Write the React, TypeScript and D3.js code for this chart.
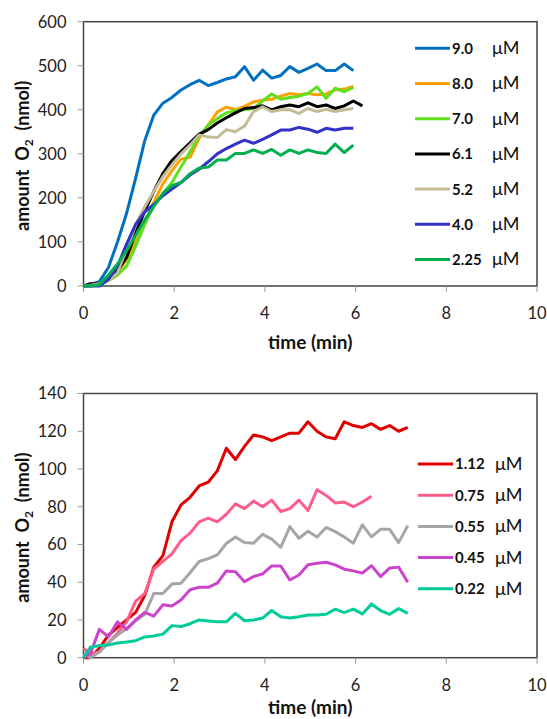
import React from "react";
import * as d3 from "d3";

// ---------- Top chart data ----------
const topTimes = [0, 0.15, 0.35, 0.55, 0.75, 0.95, 1.15, 1.35, 1.55, 1.75, 1.95, 2.15, 2.35, 2.55, 2.75, 2.95, 3.15, 3.35, 3.55, 3.75, 3.95, 4.15, 4.35, 4.55, 4.75, 4.95, 5.15, 5.35, 5.55, 5.75, 5.95, 6.15];
const s9_0 = [0, 3, 10, 42, 100, 165, 245, 330, 388, 415, 428, 445, 457, 467, 455, 462, 470, 475, 498, 467, 490, 472, 478, 498, 485, 494, 504, 489, 489, 504, 489];
const s8_0 = [0, 1, 5, 15, 32, 60, 100, 140, 190, 232, 262, 288, 292, 335, 365, 395, 406, 400, 408, 418, 422, 424, 431, 437, 434, 437, 434, 436, 445, 447, 453];
const s7_0 = [0, 0, 2, 12, 25, 45, 90, 140, 182, 210, 235, 270, 305, 340, 365, 380, 393, 398, 400, 403, 420, 436, 424, 428, 431, 437, 452, 426, 449, 441, 451];
const s6_1 = [0, 5, 5, 15, 35, 65, 120, 170, 215, 255, 285, 305, 325, 345, 355, 370, 382, 393, 403, 405, 409, 400, 407, 411, 407, 416, 407, 411, 403, 409, 420, 409];
const s5_2 = [0, 2, 5, 12, 30, 85, 140, 180, 215, 248, 275, 300, 320, 343, 338, 337, 355, 350, 363, 396, 407, 396, 400, 400, 392, 403, 396, 401, 396, 400, 403];
const s4_0 = [0, 0, 0, 15, 45, 95, 140, 168, 185, 205, 220, 235, 252, 265, 282, 300, 312, 322, 331, 324, 333, 343, 354, 354, 360, 356, 349, 358, 354, 358, 358];
const s2_25 = [0, 0, 3, 25, 50, 80, 115, 150, 180, 210, 228, 235, 255, 268, 270, 286, 286, 301, 301, 309, 301, 310, 297, 309, 301, 309, 303, 301, 322, 303, 320];
const topLabels = ["9.0", "8.0", "7.0", "6.1", "5.2", "4.0", "2.25"];
const topColors = ["#0070c0", "#ffa000", "#5fe01e", "#000000", "#c4bc96", "#3232c8", "#00b050"];
const topSeries = [s9_0, s8_0, s7_0, s6_1, s5_2, s4_0, s2_25];
const topYTicks = [0, 100, 200, 300, 400, 500, 600];

// ---------- Bottom chart data ----------
const botTimes = [0, 0.15, 0.35, 0.55, 0.75, 0.95, 1.15, 1.35, 1.55, 1.75, 1.95, 2.15, 2.35, 2.55, 2.75, 2.95, 3.15, 3.35, 3.55, 3.75, 3.95, 4.15, 4.35, 4.55, 4.75, 4.95, 5.15, 5.35, 5.55, 5.75, 5.95, 6.15, 6.35, 6.55, 6.75, 6.95, 7.15];
const s1_12 = [0, 0, 5, 12, 16, 20, 24, 33, 48, 54, 72, 81, 85, 91, 93, 99, 111, 105, 112, 118, 117, 115, 117, 119, 119, 125, 120, 117, 116, 125, 123, 122, 124, 121, 123, 120, 122];
const s0_75 = [5, 2, 3, 8, 13, 19, 30, 34, 47, 51, 55, 62, 66, 72, 74, 72, 76, 81.5, 79, 83, 80, 83.5, 77.5, 79, 83.5, 78, 89, 86, 82, 82.5, 80, 82.5, 85.5];
const s0_55 = [2, 0, 3, 8, 12, 15.5, 19.5, 23, 34, 34, 39, 39.5, 45, 51, 52.5, 54.5, 60.5, 64, 61, 60.7, 65.4, 62.8, 58.5, 69.5, 63.3, 67, 64, 69, 66.8, 64, 60.7, 70.4, 64, 68, 68, 61, 70];
const s0_45 = [0, 2, 15, 11, 19, 15, 20, 24, 22, 28, 27.4, 30.6, 36, 37.3, 37.3, 39.5, 46, 45.6, 40.3, 43, 44.4, 48.6, 48.6, 41.2, 43.8, 49.2, 50, 50.6, 49.2, 46.9, 46, 44.8, 48.8, 43, 47.5, 48, 40];
const s0_22 = [0, 5.5, 6.5, 6.7, 7.8, 8.3, 9, 11, 11.5, 12.5, 17, 16.5, 18, 20, 19.5, 19, 19, 23.5, 19.6, 20, 21, 25, 21.7, 21, 21.7, 22.6, 22.6, 23, 25.7, 23.9, 25.7, 23.2, 28.5, 25, 23, 26, 23.5];
const botLabels = ["1.12", "0.75", "0.55", "0.45", "0.22"];
const botColors = ["#e00000", "#ff5c8a", "#a6a6a6", "#cc44cc", "#00cc99"];
const botSeries = [s1_12, s0_75, s0_55, s0_45, s0_22];
const botYTicks = [0, 20, 40, 60, 80, 100, 120, 140];

const xTicks = [0, 2, 4, 6, 8, 10];

const FONT = "Lato, 'Open Sans', sans-serif";

interface PanelProps {
  top: number;
  bottom: number;
  yMax: number;
  yTicks: number[];
  times: number[];
  series: number[][];
  colors: string[];
  labels: string[];
  legendX: number;
  legendY0: number;
  legendStep: number;
  titleY: number;
}

function Panel(p: PanelProps) {
  const left = 83.5;
  const right = 537;
  const x = d3.scaleLinear().domain([0, 10]).range([left, right]);
  const y = d3.scaleLinear().domain([0, p.yMax]).range([p.bottom, p.top]);
  const line = d3
    .line<[number, number]>()
    .x((d) => x(d[0]))
    .y((d) => y(d[1]));
  const midY = (p.top + p.bottom) / 2 + 2;
  return (
    <g>
      <rect x={left} y={p.top} width={right - left} height={p.bottom - p.top} fill="none" stroke="#444" strokeWidth={1.5} />
      {p.yTicks.map((t) => (
        <g key={"y" + t}>
          <line x1={left - 6} x2={left} y1={y(t)} y2={y(t)} stroke="#999" strokeWidth={1} />
          <text x={left - 17} y={y(t)} dy="0.36em" textAnchor="end" fontSize={16.5} fill="#222" fontFamily={FONT}>
            {t}
          </text>
        </g>
      ))}
      {xTicks.map((t) => (
        <g key={"x" + t}>
          <line x1={x(t)} x2={x(t)} y1={p.bottom} y2={p.bottom + 6} stroke="#999" strokeWidth={1} />
          <text x={x(t)} y={p.bottom + 27} dy="0.36em" textAnchor="middle" fontSize={16.5} fill="#222" fontFamily={FONT}>
            {t}
          </text>
        </g>
      ))}
      {p.series.map((vals, i) => {
        const pts = vals.map((v, k) => [p.times[k], v] as [number, number]);
        return <path key={"s" + i} d={line(pts) || ""} fill="none" stroke={p.colors[i]} strokeWidth={3} strokeLinejoin="round" />;
      })}
      {p.labels.map((lab, i) => {
        const ly = p.legendY0 + i * p.legendStep;
        return (
          <g key={"l" + i}>
            <line x1={p.legendX} x2={p.legendX + 35} y1={ly} y2={ly} stroke={p.colors[i]} strokeWidth={3} />
            <text x={p.legendX + 37} y={ly} dy="0.36em" fontSize={15} fontWeight="bold" fill="#111" fontFamily={FONT}>
              {lab}
            </text>
            <text x={p.legendX + 77} y={ly} dy="0.33em" fontSize={18} fill="#111" fontFamily={FONT}>
              μM
            </text>
          </g>
        );
      })}
      <text
        transform={`translate(23,${midY}) rotate(-90)`}
        textAnchor="middle"
        dy="0.35em"
        fontSize={18}
        fontWeight="bold"
        fill="#111"
        fontFamily={FONT}
        style={{ whiteSpace: "pre" }}
      >
        {"amount  O"}
        <tspan dy={4} fontSize={12}>
          2
        </tspan>
        <tspan dy={-4}>{"  (nmol)"}</tspan>
      </text>
      <text x={(left + right) / 2} y={p.titleY} dy="0.35em" textAnchor="middle" fontSize={19} fontWeight="bold" fill="#111" fontFamily={FONT}>
        time (min)
      </text>
    </g>
  );
}

export default function App() {
  return (
    <svg width={547} height={719} style={{ position: "absolute", left: 0, top: 0, background: "#fff" }}>
      <rect x={0} y={0} width={547} height={719} fill="#fff" />
      <Panel
        top={21.7}
        bottom={286}
        yMax={600}
        yTicks={topYTicks}
        times={topTimes}
        series={topSeries}
        colors={topColors}
        labels={topLabels}
        legendX={415}
        legendY0={48.3}
        legendStep={35.2}
        titleY={342}
      />
      <Panel
        top={393.5}
        bottom={657.7}
        yMax={140}
        yTicks={botYTicks}
        times={botTimes}
        series={botSeries}
        colors={botColors}
        labels={botLabels}
        legendX={418}
        legendY0={464}
        legendStep={31.2}
        titleY={707}
      />
    </svg>
  );
}
